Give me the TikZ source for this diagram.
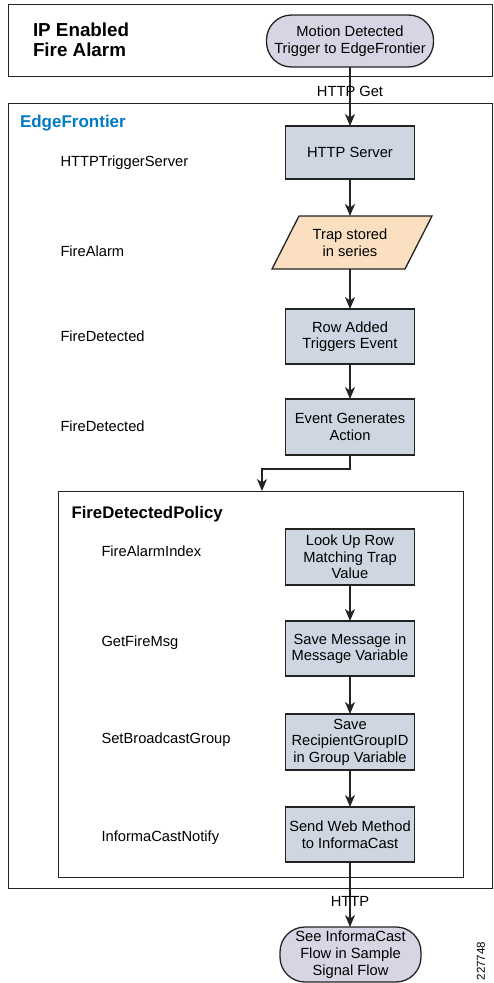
\documentclass[tikz,border=0pt]{standalone}
\usepackage{fontspec}
\setmainfont{Liberation Sans}
\usetikzlibrary{arrows.meta}
\definecolor{boxfill}{RGB}{206,214,226}
\definecolor{trapfill}{RGB}{250,224,192}
\definecolor{termfill}{RGB}{216,212,228}
\definecolor{efblue}{RGB}{0,122,194}
\definecolor{linegray}{RGB}{35,35,35}
\begin{document}
\begin{tikzpicture}[x=1pt,y=-1pt,
  every node/.style={inner sep=0pt, outer sep=0pt, font=\fontsize{14.7}{16.6}\selectfont},
  proc/.style={draw=linegray, line width=1.3pt, fill=boxfill, minimum width=129pt, align=center},
  lbl/.style={anchor=base west},
  arr/.style={draw=linegray, line width=1.1pt, -{Stealth[length=12pt,width=10pt,inset=3.5pt]}},
  frame/.style={draw=linegray, line width=1pt, anchor=north west},
  term/.style={draw=linegray, line width=1.3pt, fill=termfill, rounded corners=25pt, align=center}
]
\useasboundingbox (0,0) rectangle (493,983);

% frames
\node[frame, minimum width=484pt, minimum height=72pt] (alarmbox) at (8,4) {};
\node[frame, minimum width=484pt, minimum height=785pt] (efbox) at (8,103) {};
\node[frame, minimum width=405pt, minimum height=386pt] (policy) at (58,491) {};

% titles
\node[anchor=base west, font=\fontsize{18.8}{20}\selectfont\bfseries] (title1) at (33,36.7) {IP Enabled};
\node[anchor=base west, font=\fontsize{18.8}{20}\selectfont\bfseries] (title2) at (33,56.7) {Fire Alarm};
\node[anchor=base west, font=\fontsize{17}{19}\selectfont\bfseries, text=efblue] (eftitle) at (20,127.5) {EdgeFrontier};
\node[anchor=base west, font=\fontsize{16.8}{19}\selectfont\bfseries] (poltitle) at (71.5,518) {FireDetectedPolicy};

% terminals
\node[term, minimum width=167pt, minimum height=52pt] (trig) at (350,41) {Motion Detected\\Trigger to EdgeFrontier};
\node[term, minimum width=141pt, minimum height=55pt, font=\fontsize{14.7}{17}\selectfont] (see) at (350.5,954.5) {See InformaCast\\Flow in Sample\\Signal Flow};

% process boxes
\node[proc, minimum height=53pt] (http) at (350,152.5) {HTTP Server};
\coordinate (trapc) at (350,242.5);
\filldraw[fill=trapfill, draw=linegray, line width=1.3pt]
  ([shift={(-78,26.5)}]trapc) -- ([shift={(55,26.5)}]trapc) -- ([shift={(82,-26.5)}]trapc) -- ([shift={(-51,-26.5)}]trapc) -- cycle;
\node[minimum width=106pt, minimum height=53pt, align=center] (trap) at (trapc) {Trap stored\\in series};
\node[proc, minimum height=55pt] (rowadd) at (350,336.5) {Row Added\\Triggers Event};
\node[proc, minimum height=56pt] (event) at (350,427) {Event Generates\\Action};
\node[proc, minimum height=56pt] (lookup) at (350,557) {Look Up Row\\Matching Trap\\Value};
\node[proc, minimum height=55pt] (savemsg) at (350,648.5) {Save Message in\\Message Variable};
\node[proc, minimum height=56pt] (savegrp) at (350,742) {Save\\RecipientGroupID\\in Group Variable};
\node[proc, minimum height=55pt] (send) at (350,834.5) {Send Web Method\\to InformaCast};

% left labels
\node[lbl] (l1) at (60.5,166) {HTTPTriggerServer};
\node[lbl] (l2) at (60.5,256.7) {FireAlarm};
\node[lbl] (l3) at (60.5,341.7) {FireDetected};
\node[lbl] (l4) at (60.5,431.7) {FireDetected};
\node[lbl] (l5) at (101.5,556.7) {FireAlarmIndex};
\node[lbl] (l6) at (101.5,646.7) {GetFireMsg};
\node[lbl] (l7) at (101.5,743.3) {SetBroadcastGroup};
\node[lbl] (l8) at (101.5,841.7) {InformaCastNotify};

% connectors
\draw[arr] (trig) -- (http);
\node[anchor=base] (httpget) at (350,96.7) {HTTP Get};
\draw[arr] (http) -- (trap);
\draw[arr] (trap) -- (rowadd);
\draw[arr] (rowadd) -- (event);
\coordinate (bend) at (262,469);
\draw[arr] (event.south) |- (bend) -- (bend |- policy.north);
\draw[arr] (lookup) -- (savemsg);
\draw[arr] (savemsg) -- (savegrp);
\draw[arr] (savegrp) -- (send);
\draw[arr] (send) -- (send.south |- see.north);
\node[anchor=base] (httplbl) at (350,906.7) {HTTP};

% figure number
\node[rotate=90, font=\fontsize{11.5}{12}\selectfont] (fignum) at (481,961) {227748};
\end{tikzpicture}
\end{document}
